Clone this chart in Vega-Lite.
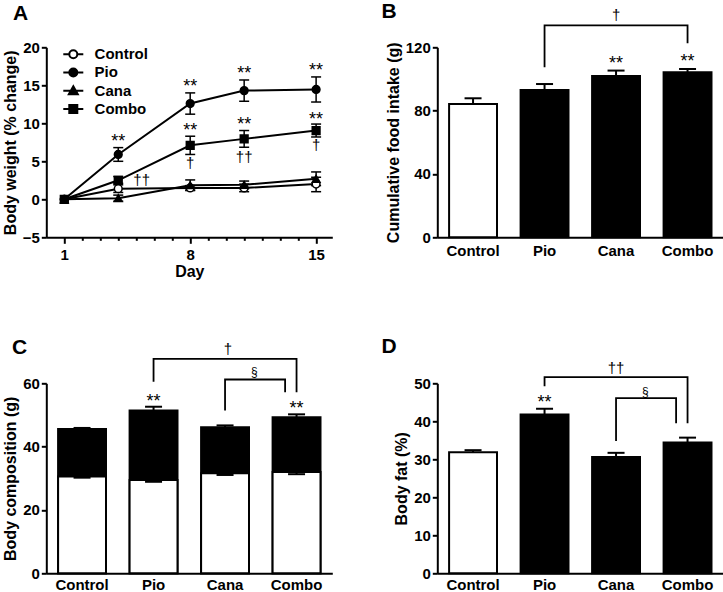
{
  "$schema": "https://vega.github.io/schema/vega-lite/v6.json",
  "padding": {"left": 1.3, "top": 0.3, "right": 0, "bottom": 0},
  "config": {
    "font": "Liberation Sans",
    "view": {"stroke": null},
    "mark": {"color": "black"},
    "axis": {
      "grid": false, "domainColor": "black", "domainWidth": 2, "tickColor": "black", "tickWidth": 2, "tickSize": 5,
      "labelFontSize": 15, "labelFontWeight": "bold", "labelColor": "black", "labelPadding": 2, "labelOverlap": false, "labelFlush": false, "labelBound": false,
      "titleFontSize": 16, "titleFontWeight": "bold", "titleColor": "black", "titlePadding": 4
    },
    "legend": {"labelFontSize": 15, "labelFontWeight": "bold", "labelColor": "black", "padding": 0},
    "title": {"fontSize": 21, "fontWeight": "bold", "color": "black", "anchor": "start", "frame": "group", "baseline": "top"}
  },
  "datasets": {
    "A": [
      {"series": "Control", "day": 1, "y": 0, "lo": 0, "hi": 0},
      {"series": "Control", "day": 4, "y": 1.4, "lo": 0.9, "hi": 1.9},
      {"series": "Control", "day": 8, "y": 1.5, "lo": 1.2, "hi": 1.8},
      {"series": "Control", "day": 11, "y": 1.5, "lo": 1.0, "hi": 2.0},
      {"series": "Control", "day": 15, "y": 2.0, "lo": 1.0, "hi": 2.9},
      {"series": "Pio", "day": 1, "y": 0, "lo": 0, "hi": 0},
      {"series": "Pio", "day": 4, "y": 5.9, "lo": 5.0, "hi": 6.8},
      {"series": "Pio", "day": 8, "y": 12.6, "lo": 11.2, "hi": 14.0},
      {"series": "Pio", "day": 11, "y": 14.3, "lo": 12.9, "hi": 15.7},
      {"series": "Pio", "day": 15, "y": 14.45, "lo": 12.8, "hi": 16.1},
      {"series": "Cana", "day": 1, "y": 0, "lo": 0, "hi": 0},
      {"series": "Cana", "day": 4, "y": 0.15, "lo": -0.25, "hi": 0.55},
      {"series": "Cana", "day": 8, "y": 1.85, "lo": 1.15, "hi": 2.55},
      {"series": "Cana", "day": 11, "y": 1.9, "lo": 1.4, "hi": 2.4},
      {"series": "Cana", "day": 15, "y": 2.7, "lo": 1.8, "hi": 3.6},
      {"series": "Combo", "day": 1, "y": 0, "lo": 0, "hi": 0},
      {"series": "Combo", "day": 4, "y": 2.5, "lo": 2.1, "hi": 3.0},
      {"series": "Combo", "day": 8, "y": 7.1, "lo": 5.9, "hi": 8.3},
      {"series": "Combo", "day": 11, "y": 7.95, "lo": 6.85, "hi": 9.05},
      {"series": "Combo", "day": 15, "y": 9.05, "lo": 8.2, "hi": 9.9}
    ],
    "A_notes": [
      {"day": 4, "y": 7.54, "label": "**"},
      {"day": 8, "y": 14.8, "label": "**"},
      {"day": 11, "y": 16.54, "label": "**"},
      {"day": 15, "y": 16.9, "label": "**"},
      {"day": 8, "y": 8.97, "label": "**"},
      {"day": 11, "y": 9.83, "label": "**"},
      {"day": 15, "y": 10.49, "label": "**"},
      {"day": 5.3, "y": 2.5, "label": "††"},
      {"day": 8, "y": 4.8, "label": "†"},
      {"day": 11, "y": 5.6, "label": "††"},
      {"day": 15, "y": 7.1, "label": "†"}
    ],
    "B": [
      {"group": "Control", "mean": 84.2, "hi": 87.8},
      {"group": "Pio", "mean": 93.0, "hi": 96.8},
      {"group": "Cana", "mean": 101.9, "hi": 105.3},
      {"group": "Combo", "mean": 104.2, "hi": 106.3}
    ],
    "B_stars": [
      {"group": "Cana", "y": 109.7, "label": "**"},
      {"group": "Combo", "y": 110.7, "label": "**"}
    ],
    "B_brackets": [
      {"id": 1, "i": 1, "x": 1.5, "y": 107.4},
      {"id": 1, "i": 2, "x": 1.5, "y": 133.9},
      {"id": 1, "i": 3, "x": 3.5, "y": 133.9},
      {"id": 1, "i": 4, "x": 3.5, "y": 122.5}
    ],
    "B_marks": [
      {"x": 2.5, "y": 140.2, "label": "†"}
    ],
    "C": [
      {"group": "Control", "lean": 30.6, "leanLo": 30.2, "total": 45.6, "hi": 45.9},
      {"group": "Pio", "lean": 29.5, "leanLo": 28.9, "total": 51.4, "hi": 52.6},
      {"group": "Cana", "lean": 31.6, "leanLo": 31.05, "total": 46.1, "hi": 46.7},
      {"group": "Combo", "lean": 32.0, "leanLo": 31.3, "total": 49.3, "hi": 50.2}
    ],
    "C_stars": [
      {"group": "Pio", "y": 54.0, "label": "**"},
      {"group": "Combo", "y": 51.9, "label": "**"}
    ],
    "C_brackets": [
      {"id": 1, "i": 1, "x": 1.5, "y": 60.5},
      {"id": 1, "i": 2, "x": 1.5, "y": 67.7},
      {"id": 1, "i": 3, "x": 3.5, "y": 67.7},
      {"id": 1, "i": 4, "x": 3.5, "y": 57.2},
      {"id": 2, "i": 1, "x": 2.5, "y": 51.4},
      {"id": 2, "i": 2, "x": 2.5, "y": 61.2},
      {"id": 2, "i": 3, "x": 3.34, "y": 61.2},
      {"id": 2, "i": 4, "x": 3.34, "y": 57.2}
    ],
    "C_marks": [
      {"x": 2.54, "y": 70.9, "label": "†"},
      {"x": 2.91, "y": 63.5, "label": "§"}
    ],
    "D": [
      {"group": "Control", "mean": 31.85, "hi": 32.4},
      {"group": "Pio", "mean": 41.8, "hi": 43.3},
      {"group": "Cana", "mean": 30.6, "hi": 31.7},
      {"group": "Combo", "mean": 34.4, "hi": 35.7}
    ],
    "D_stars": [
      {"group": "Pio", "y": 44.7, "label": "**"}
    ],
    "D_brackets": [
      {"id": 1, "i": 1, "x": 1.5, "y": 49.2},
      {"id": 1, "i": 2, "x": 1.5, "y": 51.6},
      {"id": 1, "i": 3, "x": 3.5, "y": 51.6},
      {"id": 1, "i": 4, "x": 3.5, "y": 39.5},
      {"id": 2, "i": 1, "x": 2.5, "y": 34.8},
      {"id": 2, "i": 2, "x": 2.5, "y": 46.1},
      {"id": 2, "i": 3, "x": 3.34, "y": 46.1},
      {"id": 2, "i": 4, "x": 3.34, "y": 39.5}
    ],
    "D_marks": [
      {"x": 2.5, "y": 54.1, "label": "††"},
      {"x": 2.91, "y": 47.7, "label": "§"}
    ]
  },
  "columns": 2,
  "spacing": {"row": 146, "column": 105},
  "bounds": "flush",
  "concat": [
    {
      "width": 286, "height": 190,
      "title": {"text": "A", "dx": -33.3, "offset": 16.7},
      "resolve": {"axis": {"x": "independent", "y": "independent"}},
      "layer": [
        {
          "data": {"name": "A"},
          "mark": {"type": "line", "strokeWidth": 2, "color": "black"},
          "encoding": {
            "x": {"field": "day", "type": "quantitative", "scale": {"domain": [0, 15.9], "nice": false, "zero": false},
              "axis": {"title": "Day", "values": [1, 8, 15], "tickSize": 6, "labelPadding": 4, "titlePadding": 1.5, "orient": "bottom", "labelOverlap": false}},
            "y": {"field": "y", "type": "quantitative", "scale": {"domain": [-5, 20], "nice": false, "zero": false},
              "axis": {"title": "Body weight (% change)", "values": [-5, 0, 5, 10, 15, 20], "labelOverlap": false, "orient": "left"}},
            "detail": {"field": "series", "type": "nominal"}
          }
        },
        {
          "data": {"name": "A"},
          "transform": [{"filter": "datum.hi > datum.lo"}],
          "mark": {"type": "rule", "strokeWidth": 1.5, "color": "black"},
          "encoding": {
            "x": {"field": "day", "type": "quantitative",
              "axis": {"title": null, "values": [2, 3, 4, 5, 6, 7, 9, 10, 11, 12, 13, 14], "tickSize": 3, "labels": false, "domain": false, "orient": "bottom"}},
            "y": {"field": "lo", "type": "quantitative", "axis": null},
            "y2": {"field": "hi"}
          }
        },
        {
          "data": {"name": "A"},
          "transform": [{"filter": "datum.hi > datum.lo"}],
          "mark": {"type": "tick", "orient": "horizontal", "size": 10, "thickness": 1.5, "color": "black", "opacity": 1},
          "encoding": {
            "x": {"field": "day", "type": "quantitative", "axis": null},
            "y": {"field": "lo", "type": "quantitative", "axis": null}
          }
        },
        {
          "data": {"name": "A"},
          "transform": [{"filter": "datum.hi > datum.lo"}],
          "mark": {"type": "tick", "orient": "horizontal", "size": 10, "thickness": 1.5, "color": "black", "opacity": 1},
          "encoding": {
            "x": {"field": "day", "type": "quantitative", "axis": null},
            "y": {"field": "hi", "type": "quantitative", "axis": null}
          }
        },
        {
          "data": {"name": "A"},
          "mark": {"type": "point", "filled": true, "size": 60, "stroke": "black", "strokeWidth": 1.5, "opacity": 1},
          "encoding": {
            "x": {"field": "day", "type": "quantitative", "axis": null},
            "y": {"field": "y", "type": "quantitative", "axis": null},
            "shape": {"condition": [{"test": "datum.series === 'Cana'", "value": "triangle-up"}, {"test": "datum.series === 'Combo'", "value": "square"}], "value": "circle"},
            "fill": {"condition": {"test": "datum.series === 'Control'", "value": "white"}, "value": "black"}
          }
        },
        {
          "data": {"name": "A"},
          "transform": [{"filter": "datum.day == 1"}],
          "mark": {"type": "point", "filled": true, "size": 256, "stroke": "black", "strokeWidth": 2, "opacity": 0},
          "encoding": {
            "x": {"field": "day", "type": "quantitative", "axis": null},
            "y": {"field": "y", "type": "quantitative", "axis": null},
            "shape": {"field": "series", "type": "nominal",
              "scale": {"domain": ["Control", "Pio", "Cana", "Combo"],
                "range": ["M-1.25,0H-0.5M0.5,0H1.25M0.5,0A0.5,0.5,0,1,1,-0.5,0A0.5,0.5,0,1,1,0.5,0Z",
                          "M-1.25,0H-0.5M0.5,0H1.25M0.5,0A0.5,0.5,0,1,1,-0.5,0A0.5,0.5,0,1,1,0.5,0Z",
                          "M-1.25,0H1.25M0,-0.55L0.56,0.45L-0.56,0.45Z",
                          "M-1.25,0H1.25M-0.5,-0.5H0.5V0.5H-0.5Z"]},
              "legend": {"title": null, "orient": "none", "legendX": 18, "legendY": -2, "rowPadding": 1.2, "labelOffset": 12.3,
                "symbolSize": 256, "symbolStrokeWidth": 2, "symbolOpacity": 1,
                "encode": {"symbols": {"stroke": {"value": "black"}, "strokeWidth": {"value": 2}}}}},
            "fill": {"field": "series", "type": "nominal",
              "scale": {"domain": ["Control", "Pio", "Cana", "Combo"], "range": ["white", "black", "black", "black"]},
              "legend": {"title": null, "orient": "none", "legendX": 18, "legendY": -2, "rowPadding": 1.2, "labelOffset": 12.3,
                "symbolSize": 256, "symbolStrokeWidth": 2, "symbolOpacity": 1,
                "encode": {"symbols": {"stroke": {"value": "black"}, "strokeWidth": {"value": 2}}}}}
          }
        },
        {
          "data": {"name": "A_notes"},
          "transform": [{"filter": "datum.label == '**'"}],
          "mark": {"type": "text", "fontSize": 18, "baseline": "middle", "color": "black", "fill": "black"},
          "encoding": {
            "x": {"field": "day", "type": "quantitative", "axis": null},
            "y": {"field": "y", "type": "quantitative", "axis": null},
            "text": {"field": "label"}
          }
        },
        {
          "data": {"name": "A_notes"},
          "transform": [{"filter": "datum.label != '**'"}],
          "mark": {"type": "text", "fontSize": 15, "baseline": "middle", "color": "black", "fill": "black"},
          "encoding": {
            "x": {"field": "day", "type": "quantitative", "axis": null},
            "y": {"field": "y", "type": "quantitative", "axis": null},
            "text": {"field": "label"}
          }
        }
      ]
    },
    {
      "width": 286, "height": 190,
      "title": {"text": "B", "dx": -55.8, "offset": -13.3},
      "resolve": {"scale": {"x": "independent"}, "axis": {"x": "independent", "y": "independent"}},
      "layer": [
        {
          "resolve": {"axis": {"x": "independent", "y": "independent"}},
          "layer": [
            {
              "data": {"name": "B"},
              "mark": {"type": "bar", "stroke": "black", "strokeWidth": 2, "opacity": 1},
              "encoding": {
                "x": {"field": "group", "type": "nominal",
                  "scale": {"domain": ["Control", "Pio", "Cana", "Combo"], "paddingInner": 0.33, "paddingOuter": 0.165},
                  "axis": {"title": null, "ticks": false, "tickSize": 0, "labelAngle": 0, "labelPadding": 6, "orient": "bottom"}},
                "y": {"field": "mean", "type": "quantitative", "scale": {"domain": [0, 120], "nice": false},
                  "axis": {"title": "Cumulative food intake (g)", "values": [0, 40, 80, 120], "labelOverlap": false, "orient": "left"}},
                "fill": {"condition": {"test": "datum.group === 'Control'", "value": "white"}, "value": "black"}
              }
            },
            {
              "data": {"name": "B"},
              "mark": {"type": "rule", "strokeWidth": 2, "color": "black"},
              "encoding": {
                "x": {"field": "group", "type": "nominal", "axis": null},
                "y": {"field": "mean", "type": "quantitative", "axis": null},
                "y2": {"field": "hi"}
              }
            },
            {
              "data": {"name": "B"},
              "mark": {"type": "tick", "orient": "horizontal", "size": 17, "thickness": 2, "color": "black", "opacity": 1},
              "encoding": {
                "x": {"field": "group", "type": "nominal", "axis": null},
                "y": {"field": "hi", "type": "quantitative", "axis": null}
              }
            },
            {
              "data": {"name": "B_stars"},
              "mark": {"type": "text", "fontSize": 18, "baseline": "middle", "color": "black", "fill": "black"},
              "encoding": {
                "x": {"field": "group", "type": "nominal", "axis": null},
                "y": {"field": "y", "type": "quantitative", "axis": null},
                "text": {"field": "label"}
              }
            }
          ]
        },
        {
          "resolve": {"axis": {"x": "independent", "y": "independent"}},
          "layer": [
            {
              "data": {"name": "B_brackets"},
              "mark": {"type": "line", "color": "black", "strokeWidth": 1.8},
              "encoding": {
                "x": {"field": "x", "type": "quantitative", "scale": {"domain": [0, 4], "nice": false, "zero": false}, "axis": null},
                "y": {"field": "y", "type": "quantitative", "axis": null},
                "detail": {"field": "id", "type": "nominal"},
                "order": {"field": "i", "type": "quantitative"}
              }
            },
            {
              "data": {"name": "B_marks"},
              "mark": {"type": "text", "fontSize": 15, "baseline": "middle", "color": "black", "fill": "black"},
              "encoding": {
                "x": {"field": "x", "type": "quantitative", "axis": null},
                "y": {"field": "y", "type": "quantitative", "axis": null},
                "text": {"field": "label"}
              }
            }
          ]
        }
      ]
    },
    {
      "width": 286, "height": 190,
      "title": {"text": "C", "dx": -34.3, "offset": -15.8},
      "resolve": {"scale": {"x": "independent"}, "axis": {"x": "independent", "y": "independent"}},
      "layer": [
        {
          "resolve": {"axis": {"x": "independent", "y": "independent"}},
          "layer": [
            {
              "data": {"name": "C"},
              "mark": {"type": "bar", "stroke": "black", "strokeWidth": 2, "fill": "black", "opacity": 1},
              "encoding": {
                "x": {"field": "group", "type": "nominal",
                  "scale": {"domain": ["Control", "Pio", "Cana", "Combo"], "paddingInner": 0.33, "paddingOuter": 0.165},
                  "axis": {"title": null, "ticks": false, "tickSize": 0, "labelAngle": 0, "labelPadding": 4, "orient": "bottom"}},
                "y": {"field": "total", "type": "quantitative", "scale": {"domain": [0, 60], "nice": false},
                  "axis": {"title": "Body composition (g)", "values": [0, 20, 40, 60], "labelOverlap": false, "orient": "left"}}
              }
            },
            {
              "data": {"name": "C"},
              "mark": {"type": "bar", "stroke": "black", "strokeWidth": 2, "fill": "white", "opacity": 1},
              "encoding": {
                "x": {"field": "group", "type": "nominal", "axis": null},
                "y": {"field": "lean", "type": "quantitative", "axis": null}
              }
            },
            {
              "data": {"name": "C"},
              "mark": {"type": "rule", "strokeWidth": 2, "color": "black"},
              "encoding": {
                "x": {"field": "group", "type": "nominal", "axis": null},
                "y": {"field": "total", "type": "quantitative", "axis": null},
                "y2": {"field": "hi"}
              }
            },
            {
              "data": {"name": "C"},
              "mark": {"type": "tick", "orient": "horizontal", "size": 17, "thickness": 2, "color": "black", "opacity": 1},
              "encoding": {
                "x": {"field": "group", "type": "nominal", "axis": null},
                "y": {"field": "hi", "type": "quantitative", "axis": null}
              }
            },
            {
              "data": {"name": "C"},
              "mark": {"type": "rule", "strokeWidth": 2, "color": "black"},
              "encoding": {
                "x": {"field": "group", "type": "nominal", "axis": null},
                "y": {"field": "leanLo", "type": "quantitative", "axis": null},
                "y2": {"field": "lean"}
              }
            },
            {
              "data": {"name": "C"},
              "mark": {"type": "tick", "orient": "horizontal", "size": 17, "thickness": 2, "color": "black", "opacity": 1},
              "encoding": {
                "x": {"field": "group", "type": "nominal", "axis": null},
                "y": {"field": "leanLo", "type": "quantitative", "axis": null}
              }
            },
            {
              "data": {"name": "C_stars"},
              "mark": {"type": "text", "fontSize": 18, "baseline": "middle", "color": "black", "fill": "black"},
              "encoding": {
                "x": {"field": "group", "type": "nominal", "axis": null},
                "y": {"field": "y", "type": "quantitative", "axis": null},
                "text": {"field": "label"}
              }
            }
          ]
        },
        {
          "resolve": {"axis": {"x": "independent", "y": "independent"}},
          "layer": [
            {
              "data": {"name": "C_brackets"},
              "mark": {"type": "line", "color": "black", "strokeWidth": 1.8},
              "encoding": {
                "x": {"field": "x", "type": "quantitative", "scale": {"domain": [0, 4], "nice": false, "zero": false}, "axis": null},
                "y": {"field": "y", "type": "quantitative", "axis": null},
                "detail": {"field": "id", "type": "nominal"},
                "order": {"field": "i", "type": "quantitative"}
              }
            },
            {
              "data": {"name": "C_marks"},
              "transform": [{"filter": "datum.label != '§'"}],
              "mark": {"type": "text", "fontSize": 15, "baseline": "middle", "color": "black", "fill": "black"},
              "encoding": {
                "x": {"field": "x", "type": "quantitative", "axis": null},
                "y": {"field": "y", "type": "quantitative", "axis": null},
                "text": {"field": "label"}
              }
            },
            {
              "data": {"name": "C_marks"},
              "transform": [{"filter": "datum.label == '§'"}],
              "mark": {"type": "text", "fontSize": 12, "baseline": "middle", "color": "black", "fill": "black"},
              "encoding": {
                "x": {"field": "x", "type": "quantitative", "axis": null},
                "y": {"field": "y", "type": "quantitative", "axis": null},
                "text": {"field": "label"}
              }
            }
          ]
        }
      ]
    },
    {
      "width": 286, "height": 190,
      "title": {"text": "D", "dx": -55.8, "offset": 3.4},
      "resolve": {"scale": {"x": "independent"}, "axis": {"x": "independent", "y": "independent"}},
      "layer": [
        {
          "resolve": {"axis": {"x": "independent", "y": "independent"}},
          "layer": [
            {
              "data": {"name": "D"},
              "mark": {"type": "bar", "stroke": "black", "strokeWidth": 2, "opacity": 1},
              "encoding": {
                "x": {"field": "group", "type": "nominal",
                  "scale": {"domain": ["Control", "Pio", "Cana", "Combo"], "paddingInner": 0.33, "paddingOuter": 0.165},
                  "axis": {"title": null, "ticks": false, "tickSize": 0, "labelAngle": 0, "labelPadding": 4, "orient": "bottom"}},
                "y": {"field": "mean", "type": "quantitative", "scale": {"domain": [0, 50], "nice": false},
                  "axis": {"title": "Body fat (%)", "values": [0, 10, 20, 30, 40, 50], "labelOverlap": false, "orient": "left"}},
                "fill": {"condition": {"test": "datum.group === 'Control'", "value": "white"}, "value": "black"}
              }
            },
            {
              "data": {"name": "D"},
              "mark": {"type": "rule", "strokeWidth": 2, "color": "black"},
              "encoding": {
                "x": {"field": "group", "type": "nominal", "axis": null},
                "y": {"field": "mean", "type": "quantitative", "axis": null},
                "y2": {"field": "hi"}
              }
            },
            {
              "data": {"name": "D"},
              "mark": {"type": "tick", "orient": "horizontal", "size": 17, "thickness": 2, "color": "black", "opacity": 1},
              "encoding": {
                "x": {"field": "group", "type": "nominal", "axis": null},
                "y": {"field": "hi", "type": "quantitative", "axis": null}
              }
            },
            {
              "data": {"name": "D_stars"},
              "mark": {"type": "text", "fontSize": 18, "baseline": "middle", "color": "black", "fill": "black"},
              "encoding": {
                "x": {"field": "group", "type": "nominal", "axis": null},
                "y": {"field": "y", "type": "quantitative", "axis": null},
                "text": {"field": "label"}
              }
            }
          ]
        },
        {
          "resolve": {"axis": {"x": "independent", "y": "independent"}},
          "layer": [
            {
              "data": {"name": "D_brackets"},
              "mark": {"type": "line", "color": "black", "strokeWidth": 1.8},
              "encoding": {
                "x": {"field": "x", "type": "quantitative", "scale": {"domain": [0, 4], "nice": false, "zero": false}, "axis": null},
                "y": {"field": "y", "type": "quantitative", "axis": null},
                "detail": {"field": "id", "type": "nominal"},
                "order": {"field": "i", "type": "quantitative"}
              }
            },
            {
              "data": {"name": "D_marks"},
              "transform": [{"filter": "datum.label != '§'"}],
              "mark": {"type": "text", "fontSize": 15, "baseline": "middle", "color": "black", "fill": "black"},
              "encoding": {
                "x": {"field": "x", "type": "quantitative", "axis": null},
                "y": {"field": "y", "type": "quantitative", "axis": null},
                "text": {"field": "label"}
              }
            },
            {
              "data": {"name": "D_marks"},
              "transform": [{"filter": "datum.label == '§'"}],
              "mark": {"type": "text", "fontSize": 12, "baseline": "middle", "color": "black", "fill": "black"},
              "encoding": {
                "x": {"field": "x", "type": "quantitative", "axis": null},
                "y": {"field": "y", "type": "quantitative", "axis": null},
                "text": {"field": "label"}
              }
            }
          ]
        }
      ]
    }
  ]
}
